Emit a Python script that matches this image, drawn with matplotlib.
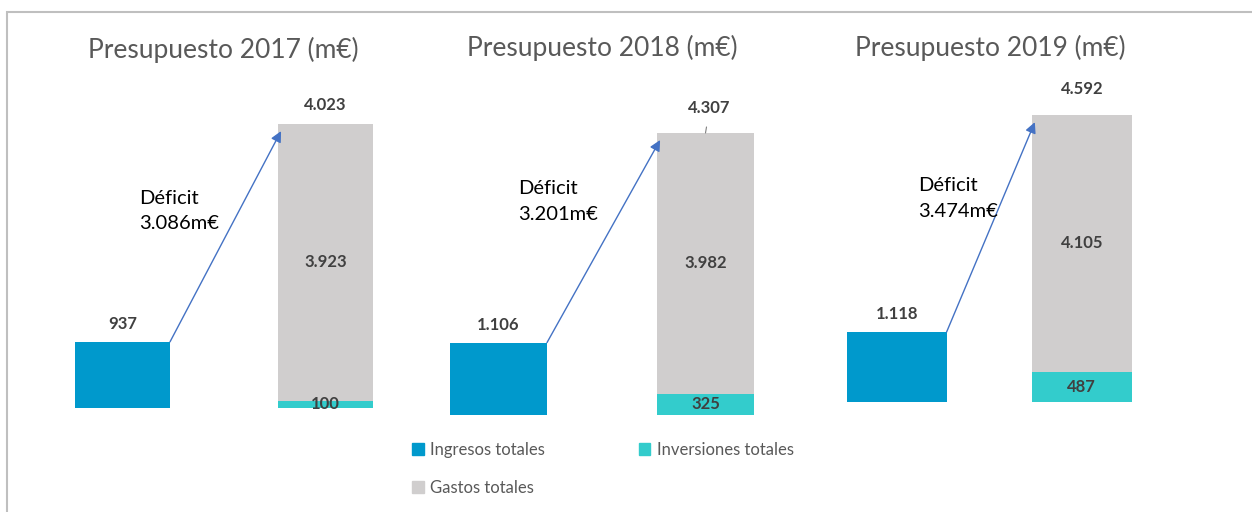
import matplotlib.pyplot as plt
from matplotlib.patches import Patch, Rectangle

plt.rcParams['font.family'] = ['Lato', 'DejaVu Sans']

# datos (m€)
years = ['2017', '2018', '2019']
ingresos = [937, 1106, 1118]
inversiones = [100, 325, 487]
gastos = [3923, 3982, 4105]
deficit_labels = ['3.086m€', '3.201m€', '3.474m€']

c_ing = '#0099CC'
c_inv = '#33CCCC'
c_gas = '#D0CECE'
c_arrow = '#4472C4'
c_lbl = '#404040'
c_title = '#595959'

W, H = 1252, 512
fig = plt.figure(figsize=(W / 100, H / 100), dpi=100)

# marco gris
fig.patches.append(Rectangle((7 / W, -0.1), 2, 1.1 - 12 / H, transform=fig.transFigure,
                             fill=False, edgecolor='#BFBFBF', lw=1.5))


def fmt(v):
    return f'{v:,}'.replace(',', '.')


# layout de cada panel en pixeles: (centro barra 1, distancia entre barras, ancho barra, base, px por unidad)
layout = [
    (122.5, 203, 95, 408, 0.07059),
    (498.5, 207, 97, 415, 0.06548),
    (896.8, 185, 99.5, 402, 0.0625),
]
total_off = [14, 18, 19]       # desplazamiento etiqueta total (pt)
deficit_pos = [(0.081, 2791), (0.094, 3260), (0.113, 3256)]
title_pos = [(223, 50), (602, 48), (990, 48)]

for i in range(3):
    cx, dist, bw, base, sc = layout[i]
    left = cx - dist / 2
    width = 2 * dist
    height = 4600 * sc
    ax = fig.add_axes([left / W, (H - base) / H, width / W, height / H])
    ax.set_xlim(-0.5, 1.5)
    ax.set_ylim(0, 4600)
    ax.axis('off')
    w = bw / dist

    ax.bar(0, ingresos[i], width=w, color=c_ing)
    ax.bar(1, inversiones[i], width=w, color=c_inv)
    ax.bar(1, gastos[i], width=w, bottom=inversiones[i], color=c_gas)
    total = inversiones[i] + gastos[i]

    ax.annotate(fmt(ingresos[i]), (0, ingresos[i]), xytext=(0, 13), textcoords='offset points',
                ha='center', va='center', fontsize=12, fontweight='bold', color=c_lbl)
    ax.text(1, inversiones[i] / 2, fmt(inversiones[i]), ha='center', va='center',
            fontsize=12, fontweight='bold', color=c_lbl)
    ax.text(1, inversiones[i] + gastos[i] / 2, fmt(gastos[i]), ha='center', va='center',
            fontsize=12, fontweight='bold', color=c_lbl)
    if i == 1:
        ax.annotate(fmt(total), (1, total), xytext=(3, total_off[i]), textcoords='offset points',
                    ha='center', va='center', fontsize=12, fontweight='bold', color=c_lbl,
                    arrowprops=dict(arrowstyle='-', color='#7F7F7F', lw=0.8, shrinkA=6, shrinkB=0))
    else:
        ax.annotate(fmt(total), (1, total), xytext=(0, total_off[i]), textcoords='offset points',
                    ha='center', va='center', fontsize=12, fontweight='bold', color=c_lbl)

    # flecha del deficit
    ax.annotate('', xy=(1 - w / 2 + 0.015, total * 0.975), xytext=(w / 2, ingresos[i]),
                arrowprops=dict(arrowstyle='-|>', color=c_arrow, lw=1, mutation_scale=16,
                                shrinkA=0, shrinkB=0))
    ax.text(deficit_pos[i][0], deficit_pos[i][1], 'Déficit\n' + deficit_labels[i],
            ha='left', va='center', fontsize=14.5, color='black', linespacing=1.6)

    tx, ty = title_pos[i]
    fig.text(tx / W, 1 - ty / H, f'Presupuesto {years[i]} (m€)', ha='center', va='center',
             fontsize=19, color=c_title)

handles = [Patch(color=c_ing, label='Ingresos totales'),
           Patch(color=c_gas, label='Gastos totales'),
           Patch(color=c_inv, label='Inversiones totales')]
fig.legend(handles=handles, ncol=2, loc='upper left', bbox_to_anchor=(412 / W, 1 - 442 / H),
           frameon=False, fontsize=12, labelcolor=c_title, handlelength=0.7, handleheight=0.7,
           handletextpad=0.4, columnspacing=5.6, labelspacing=1.3, borderpad=0, borderaxespad=0)

fig.savefig('out.png', dpi=100)
